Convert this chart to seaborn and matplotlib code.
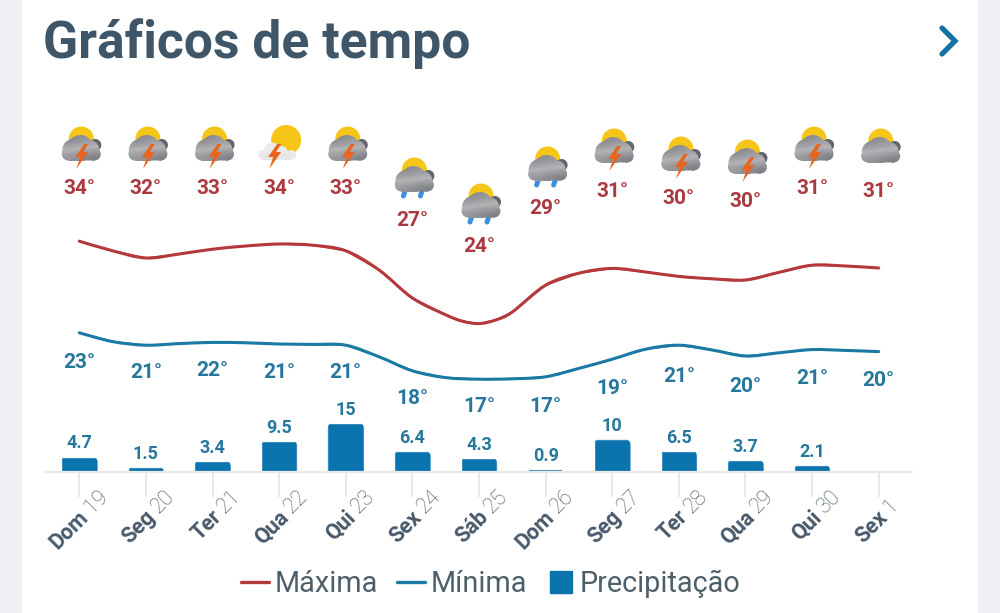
"""Gráficos de tempo: 13-day forecast with temperature lines and rain bars."""

import matplotlib

matplotlib.use("Agg")
import matplotlib.pyplot as plt
import matplotlib.transforms as mtransforms
import numpy as np
import seaborn as sns
from matplotlib.colors import LinearSegmentedColormap
from matplotlib.lines import Line2D
from matplotlib.patches import Circle, FancyBboxPatch, PathPatch, Polygon, Rectangle
from matplotlib.path import Path

DAYS = ["Dom 19", "Seg 20", "Ter 21", "Qua 22", "Qui 23", "Sex 24", "Sáb 25",
        "Dom 26", "Seg 27", "Ter 28", "Qua 29", "Qui 30", "Sex 1"]
MAX_LABELS = [34, 32, 33, 34, 33, 27, 24, 29, 31, 30, 30, 31, 31]
MIN_LABELS = [23, 21, 22, 21, 21, 18, 17, 17, 19, 21, 20, 21, 20]
PRECIP = [4.7, 1.5, 3.4, 9.5, 15, 6.4, 4.3, 0.9, 10, 6.5, 3.7, 2.1, 0]
ICONS = ["storm", "storm", "storm", "partly", "storm", "rain", "rain",
         "rain", "storm", "storm", "storm", "storm", "cloud"]

# curves every half day, a bit closer around the Sáb 25 dip
MAX_X = [0, 0.5, 1, 1.5, 2, 2.5, 3, 3.5, 4, 4.5, 5, 5.5, 5.75, 6, 6.25, 6.5,
         7, 7.5, 8, 8.5, 9, 9.5, 10, 10.5, 11, 11.5, 12]
MAX_CURVE = [34.1, 32.9, 32.0, 32.5, 33.1, 33.5, 33.75, 33.6, 32.9, 30.5, 27.0, 24.9, 24.1, 23.8, 24.25,
             25.25, 28.6, 30.1, 30.7, 30.25, 29.7, 29.4, 29.25, 30.2, 31.1, 31.0, 30.75]
MIN_X = [0, 0.5, 1, 1.5, 2, 2.5, 3, 3.5, 4, 4.5, 5, 5.5, 6, 6.5,
         7, 7.5, 8, 8.5, 9, 9.5, 10, 10.5, 11, 11.5, 12]
MIN_CURVE = [22.65, 21.55, 21.1, 21.3, 21.45, 21.4, 21.25, 21.2, 21.1, 19.65, 17.9, 17.05, 16.85,
             16.9, 17.15, 18.2, 19.35, 20.6, 21.1, 20.5, 19.75, 20.15, 20.55, 20.45, 20.3]

# label heights in pixels, the chart staggers them to avoid the lines
MAX_LABEL_PX = [189, 189, 189, 189, 189, 220, 246, 209, 191, 199, 202, 189, 191]
MIN_LABEL_PX = [363, 373, 370, 373, 373, 398, 407, 407, 388, 376, 386, 378, 381]

RED = "#b5383c"
RED_TEXT = "#a93a40"
BLUE = "#1b7aa3"
BLUE_TEXT = "#25779c"
BAR = "#0b73ad"
SLATE = "#3f5668"
W, H = 1000, 613

CLOUD_CMAP = LinearSegmentedColormap.from_list("cloud", ["#83838a", "#b4b4b6", "#7a7a82"])


def fy(px):
    return 1 - px / H


def add_circles(ax, circles, color, zorder):
    for x, y, r in circles:
        ax.add_patch(Circle((x, y), r, color=color, lw=0, zorder=zorder))


def smooth_curve(ax, xs, ys, color, lw):
    """Spline through the read values, the chart's own lines are splined too."""
    pts = np.column_stack([xs, ys])
    verts = [pts[0]]
    for i in range(len(pts) - 1):
        before = pts[max(i - 1, 0)]
        after = pts[min(i + 2, len(pts) - 1)]
        verts += [pts[i] + (pts[i + 1] - before) / 6, pts[i + 1] - (after - pts[i]) / 6, pts[i + 1]]
    codes = [Path.MOVETO] + [Path.CURVE4] * (len(verts) - 1)
    ax.add_patch(PathPatch(Path(verts, codes), fill=False, edgecolor=color, lw=lw, capstyle="round"))


def draw_cloud(ax, cx, top):
    ax.add_patch(Circle((cx + 14, top + 19), 6, color="#63646c", lw=0, zorder=3))
    circles = [(cx - 1, top + 22, 13), (cx - 8, top + 24, 11), (cx + 8, top + 24, 10),
               (cx - 13, top + 28, 6.5), (cx + 13, top + 28, 6.5)]
    parts = [Path.circle((x, y), r) for x, y, r in circles]
    parts.append(Path.unit_rectangle().transformed(
        mtransforms.Affine2D().scale(26, 10).translate(cx - 13, top + 24.5)))
    clip = PathPatch(Path.make_compound_path(*parts), transform=ax.transData)
    grad = np.array([[0.0, 0.25], [0.4, 0.55], [0.75, 1.0]])
    img = ax.imshow(grad, cmap=CLOUD_CMAP, extent=(cx - 20, cx + 20, top + 35, top + 9), aspect="auto",
                    interpolation="bicubic", zorder=4)
    img.set_clip_path(clip)


def draw_bolt(ax, cx, top):
    pts = [(cx + 3, top + 18), (cx - 6, top + 31), (cx - 1, top + 31), (cx - 5, top + 43),
           (cx + 7, top + 26), (cx + 2, top + 26), (cx + 7, top + 18)]
    ax.add_patch(Polygon(pts, closed=True, color="#e8651f", lw=0, zorder=6))


def draw_icon(ax, kind, cx, top):
    if kind == "partly":
        add_circles(ax, [(cx + 5, top + 14, 15)], "#f5c518", 2)
        add_circles(ax, [(cx - 9, top + 25, 8.5), (cx - 18, top + 29, 5), (cx + 10, top + 29, 5),
                         (cx, top + 27, 7)], "#ebebeb", 4)
        ax.add_patch(Rectangle((cx - 18, top + 27), 28, 7, color="#e6e6e6", lw=0, zorder=4))
        draw_bolt(ax, cx - 7, top)
        return
    add_circles(ax, [(cx, top + 13, 12.5)], "#f5c518", 2)
    draw_cloud(ax, cx, top)
    if kind == "storm":
        draw_bolt(ax, cx, top)
    elif kind == "rain":
        for dx in (-10, 7):
            ax.plot([cx + dx + 1, cx + dx - 1], [top + 33, top + 39], color="#3d8fe0", lw=3.6,
                    solid_capstyle="round", zorder=3)


def main():
    sns.set_theme(style="white")
    plt.rcParams["font.family"] = ["Roboto", "DejaVu Sans"]

    fig = plt.figure(figsize=(W / 100, H / 100), dpi=100, facecolor="white")

    # page furniture and icons live in a pixel-sized axes behind the chart
    ax_bg = fig.add_axes([0, 0, 1, 1], zorder=-1)
    ax_bg.add_patch(Rectangle((0, 0), 22, H, color="#eef0f3", lw=0))
    ax_bg.add_patch(Rectangle((978, 0), 22, H, color="#eef0f3", lw=0))
    ax_bg.plot([942, 955, 942], [28, 41, 54], color="#1273a6", lw=3.8,
               solid_capstyle="round", solid_joinstyle="miter")
    ax_bg.text(43, 58, "Gráficos de tempo", fontsize=37.2, fontweight="bold", color=SLATE,
               ha="left", va="baseline")

    rect_x = [46 / W, 866 / W]
    ax_temp = fig.add_axes([rect_x[0], fy(400), rect_x[1], 300 / H], zorder=2)
    ax_temp.patch.set_alpha(0)
    # thin seaborn lines sit inside the spline stroke drawn over them
    sns.lineplot(x=MAX_X, y=MAX_CURVE, color=RED, linewidth=1.2, ax=ax_temp, legend=False)
    sns.lineplot(x=MIN_X, y=MIN_CURVE, color=BLUE, linewidth=1.2, ax=ax_temp, legend=False)
    smooth_curve(ax_temp, MAX_X, MAX_CURVE, RED, 2.2)
    smooth_curve(ax_temp, MIN_X, MIN_CURVE, BLUE, 2.2)
    ax_temp.set_xlim(-0.5, 12.5)
    ax_temp.set_ylim(14.25, 51.75)
    ax_temp.axis("off")

    label_tr = mtransforms.blended_transform_factory(ax_temp.transData, fig.transFigure)
    px_per_day = 866 / 13
    for i, (hi, lo) in enumerate(zip(MAX_LABELS, MIN_LABELS)):
        ax_temp.text(i, fy(MAX_LABEL_PX[i]), f"{hi}°", transform=label_tr, color=RED_TEXT,
                     fontsize=15, fontweight="semibold", ha="center", va="center")
        ax_temp.text(i, fy(MIN_LABEL_PX[i]), f"{lo}°", transform=label_tr, color=BLUE_TEXT,
                     fontsize=15, fontweight="semibold", ha="center", va="center")
        draw_icon(ax_bg, ICONS[i], 46 + px_per_day * (i + 0.5) + 2, MAX_LABEL_PX[i] - 63)
    ax_bg.set_xlim(0, W)
    ax_bg.set_ylim(H, 0)
    ax_bg.axis("off")

    ax_bar = fig.add_axes([rect_x[0], fy(472), rect_x[1], 72 / H], zorder=3)
    ax_bar.patch.set_alpha(0)
    sns.barplot(x=DAYS, y=PRECIP, color=BAR, saturation=1, width=0.55, ax=ax_bar)
    ax_bar.set_xlim(-0.5, 12.5)
    ax_bar.set_ylim(0, 72 / 3.27)
    ax_bar.set_yticks([])
    ax_bar.set_xlabel("")
    ax_bar.set_ylabel("")
    sns.despine(ax=ax_bar, left=True)
    ax_bar.spines["bottom"].set_color("#e9e9e9")
    ax_bar.spines["bottom"].set_linewidth(1.6)
    ax_bar.tick_params(axis="x", bottom=True, length=18, width=1.4, color="#e9e9e9", labelbottom=False)

    # rounded tops, the bars stay what seaborn drew and just get clipped
    for rect in ax_bar.patches:
        clip = FancyBboxPatch((rect.get_x(), -5), rect.get_width(), rect.get_height() + 5,
                              boxstyle="round,pad=0,rounding_size=0.09", mutation_aspect=20.4,
                              transform=ax_bar.transData)
        rect.set_clip_path(clip)
    bar_labels = [f"{v:g}" if v > 0 else "" for v in PRECIP]
    ax_bar.bar_label(ax_bar.containers[0], labels=bar_labels, padding=3, fontsize=13,
                     fontweight="semibold", color=BLUE_TEXT, clip_on=False)

    # tick text has two weights, so each label is two rotated pieces meeting at one point
    tick_tr = mtransforms.blended_transform_factory(ax_bar.transData, fig.transFigure)
    for i, day in enumerate(DAYS):
        name, number = day.split()
        ax_bar.text(i + 0.09, fy(514), name, transform=tick_tr, rotation=45, rotation_mode="anchor",
                    ha="right", va="center", fontsize=15.5, fontweight="bold", color="#47596a",
                    clip_on=False)
        ax_bar.text(i + 0.13, fy(510), number, transform=tick_tr, rotation=45, rotation_mode="anchor",
                    ha="left", va="center", fontsize=15.5, fontweight="light", color="#43545f",
                    clip_on=False)

    handles = [
        Line2D([], [], color=RED, lw=2.4),
        Line2D([], [], color=BLUE, lw=2.4),
        Line2D([], [], color=BAR, marker="s", markersize=16, linestyle="none"),
    ]
    fig.legend(handles, ["Máxima", "Mínima", "Precipitação"], loc="center", ncol=3,
               bbox_to_anchor=(0.491, fy(584)), frameon=False, fontsize=20.8, labelcolor="#4e5f6c",
               handlelength=0.95, handletextpad=0.2, columnspacing=0.68, numpoints=1)

    fig.savefig("out.png", dpi=100)
    plt.close(fig)


if __name__ == "__main__":
    main()
